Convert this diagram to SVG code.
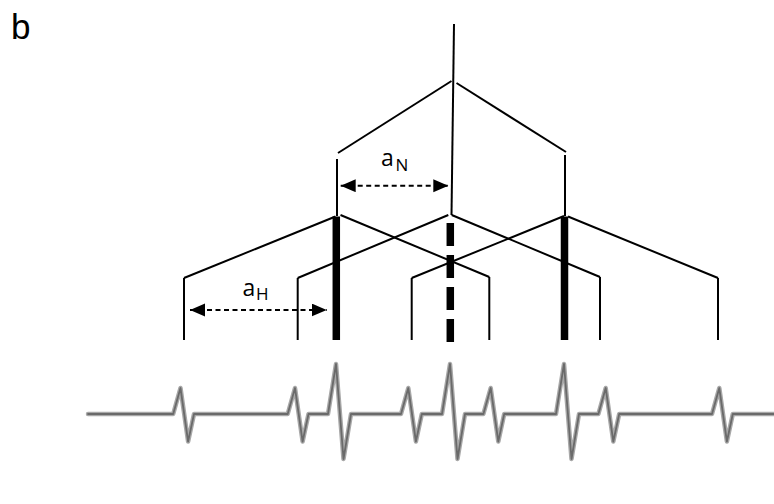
<svg xmlns="http://www.w3.org/2000/svg" width="774" height="504" viewBox="0 0 774 504">
  <style>
    .ln { stroke: #000; stroke-width: 2; fill: none; }
    .thick { stroke: #000; stroke-width: 7.5; fill: none; }
    .dim { stroke: #000; stroke-width: 2; stroke-dasharray: 5 3.5; fill: none; }
    .lbl { font-family: "Open Sans", "Noto Sans", sans-serif; fill: #000; }
    .ecg { fill: none; stroke-linejoin: round; stroke-linecap: round; }
    .ecg-halo { stroke: #a8a8a8; stroke-width: 4.5; }
    .ecg-core { stroke: #6a6a6a; stroke-width: 1.8; }
  </style>
  <defs>
    <marker id="head" markerUnits="userSpaceOnUse" markerWidth="16" markerHeight="14" refX="15" refY="6.5" orient="auto-start-reverse" viewBox="0 0 16 14">
      <path d="M0,0 L15,6.5 L0,13 Z" fill="#000" stroke="none"/>
    </marker>
    <filter id="soft" x="-5%" y="-20%" width="110%" height="140%">
      <feGaussianBlur stdDeviation="0.6"/>
    </filter>
    <path id="trace" d="
      M88,414 L173.2,414 L180.5,388 L188.1,441.5 L194,414
      L287.7,414 L295,388 L302.6,441.5 L308.5,414
      L328,414 L336,364 L343.5,459 L351,414
      L401,414 L408.3,388 L415.9,441.5 L421.8,414
      L442,414 L450,364 L457.5,459 L465,414
      L483.4,414 L490.7,388 L498.3,441.5 L504.2,414
      L556,414 L564,364 L571.5,459 L579,414
      L598.4,414 L605.7,388 L613.3,441.5 L619.2,414
      L712,414 L719.3,388 L726.9,441.5 L732.8,414
      L774,414"/>
  </defs>

  <rect width="774" height="504" fill="#fff"/>

  <text x="11" y="39" style="font-family:'Liberation Sans', Arial, sans-serif" font-size="35">b</text>

  <!-- upper tier: root and its two children -->
  <g id="root">
    <line class="ln" x1="454" y1="24" x2="451.5" y2="215"/>
  </g>
  <g id="upper-branches">
    <line class="ln" x1="451.5" y1="81" x2="338" y2="153"/>
    <line class="ln" x1="456.5" y1="83" x2="566" y2="152"/>
    <line class="ln" x1="337" y1="159" x2="337" y2="216"/>
    <line class="ln" x1="565" y1="155" x2="565" y2="216"/>
  </g>

  <!-- lower tier: three nodes, each splitting into two -->
  <g id="node-left">
    <line class="thick" x1="336.3" y1="216.5" x2="336.3" y2="340"/>
    <line class="ln" x1="335.5" y1="216.5" x2="184" y2="278"/>
    <line class="ln" x1="340.5" y1="215" x2="489.3" y2="277"/>
    <line class="ln" x1="184" y1="278" x2="184" y2="340"/>
    <line class="ln" x1="489.3" y1="277" x2="489.3" y2="340"/>
  </g>
  <g id="node-middle">
    <line class="thick" x1="450.3" y1="223" x2="450.3" y2="343" stroke-dasharray="23 9"/>
    <line class="ln" x1="448.3" y1="215" x2="297.7" y2="278"/>
    <line class="ln" x1="451.7" y1="215" x2="600" y2="277"/>
    <line class="ln" x1="297.7" y1="278" x2="297.7" y2="340"/>
    <line class="ln" x1="600" y1="277" x2="600" y2="340"/>
  </g>
  <g id="node-right">
    <line class="thick" x1="564.5" y1="216.5" x2="564.5" y2="340"/>
    <line class="ln" x1="564" y1="216" x2="411.7" y2="278"/>
    <line class="ln" x1="568" y1="216.5" x2="718" y2="278"/>
    <line class="ln" x1="411.7" y1="278" x2="411.7" y2="340"/>
    <line class="ln" x1="718" y1="278" x2="718" y2="340"/>
  </g>

  <!-- interval dimensions -->
  <g id="connectors">
    <line class="dim" x1="340.7" y1="185.7" x2="448.3" y2="185.7" marker-start="url(#head)" marker-end="url(#head)"/>
    <line class="dim" x1="190" y1="310" x2="326.7" y2="310" marker-start="url(#head)" marker-end="url(#head)"/>
  </g>
  <g id="label-aN">
    <text class="lbl" x="381" y="165.7" font-size="23">a</text>
    <text class="lbl" x="395.5" y="170.7" font-size="17">N</text>
  </g>
  <g id="label-aH">
    <text class="lbl" x="242.5" y="296" font-size="23">a</text>
    <text class="lbl" x="256" y="300" font-size="17">H</text>
  </g>

  <!-- ECG trace -->
  <g id="ecg" class="ecg" filter="url(#soft)">
    <use href="#trace" class="ecg-halo"/>
    <use href="#trace" class="ecg-core"/>
  </g>
</svg>
